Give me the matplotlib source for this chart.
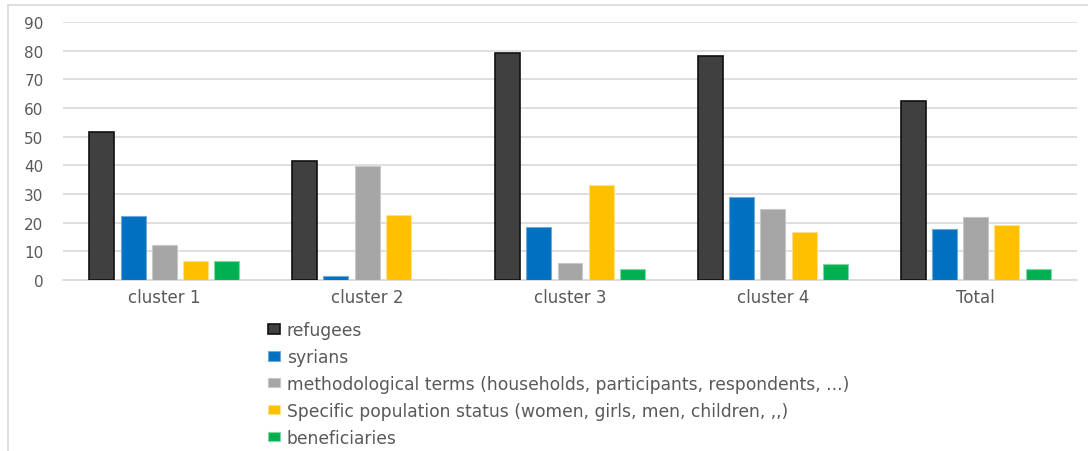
import matplotlib.pyplot as plt
from matplotlib.lines import Line2D
import numpy as np

# Values
categories = ['cluster 1', 'cluster 2', 'cluster 3', 'cluster 4', 'Total']
refugees = [51.6, 41.6, 79.2, 78.0, 62.3]
syrians = [22.4, 1.4, 18.6, 29.1, 17.9]
methodological = [12.1, 39.9, 5.9, 24.9, 22.0]
specific = [6.7, 22.8, 33.1, 16.6, 19.1]
beneficiaries = [6.7, 0.0, 3.8, 5.5, 3.8]

series_labels = [
    'refugees',
    'syrians',
    'methodological terms (households, participants, respondents, ...)',
    'Specific population status (women, girls, men, children, ,,)',
    'beneficiaries',
]
colors = ['#404040', '#0070C0', '#A5A5A5', '#FFC000', '#00B050']
edges = ['#111111', '#6FA8DC', '#C8C8C8', '#FFE08A', '#7FD8A7']

fig = plt.figure(figsize=(10.88, 4.52), dpi=100)
ax = fig.add_axes([63 / 1088, 1 - 281 / 452, (1077 - 63) / 1088, (281 - 23) / 452])

x = np.arange(len(categories))
slot = 0.154
bar_w = 0.123
all_series = [refugees, syrians, methodological, specific, beneficiaries]
for i, vals in enumerate(all_series):
    ax.bar(x + (i - 2) * slot, vals, width=bar_w, color=colors[i],
           edgecolor=edges[i], linewidth=1.2 if i == 0 else 0.8,
           label=series_labels[i], zorder=3)

ax.set_xlim(-0.5, len(categories) - 0.5)
ax.set_ylim(0, 90)
ax.set_yticks(range(0, 91, 10))
ax.set_xticks(x)
ax.set_xticklabels(categories)
ax.grid(axis='y', color='#D9D9D9', linewidth=1.2, zorder=0)
for side in ['top', 'right', 'left']:
    ax.spines[side].set_visible(False)
ax.spines['bottom'].set_color('#D9D9D9')
ax.spines['bottom'].set_linewidth(1.2)
ax.tick_params(axis='both', length=0, labelcolor='#595959')
ax.tick_params(axis='y', pad=14, labelsize=11)
ax.tick_params(axis='x', pad=6, labelsize=12)

leg = fig.legend(loc='upper left', bbox_to_anchor=(268 / 1088, 1 - 322 / 452),
                 frameon=False, fontsize=12.3, labelcolor='#595959',
                 handlelength=0.7, handleheight=0.47, handletextpad=0.41,
                 labelspacing=0.52, borderpad=0, borderaxespad=0)

# thin chart frame at top and left
fig.add_artist(Line2D([7.5 / 1088, 7.5 / 1088], [0, 1 - 5.5 / 452],
                      color='#D9D9D9', linewidth=1.2))
fig.add_artist(Line2D([7.5 / 1088, 1], [1 - 5.5 / 452, 1 - 5.5 / 452],
                      color='#D9D9D9', linewidth=1.2))

plt.savefig('out.png', dpi=100)
